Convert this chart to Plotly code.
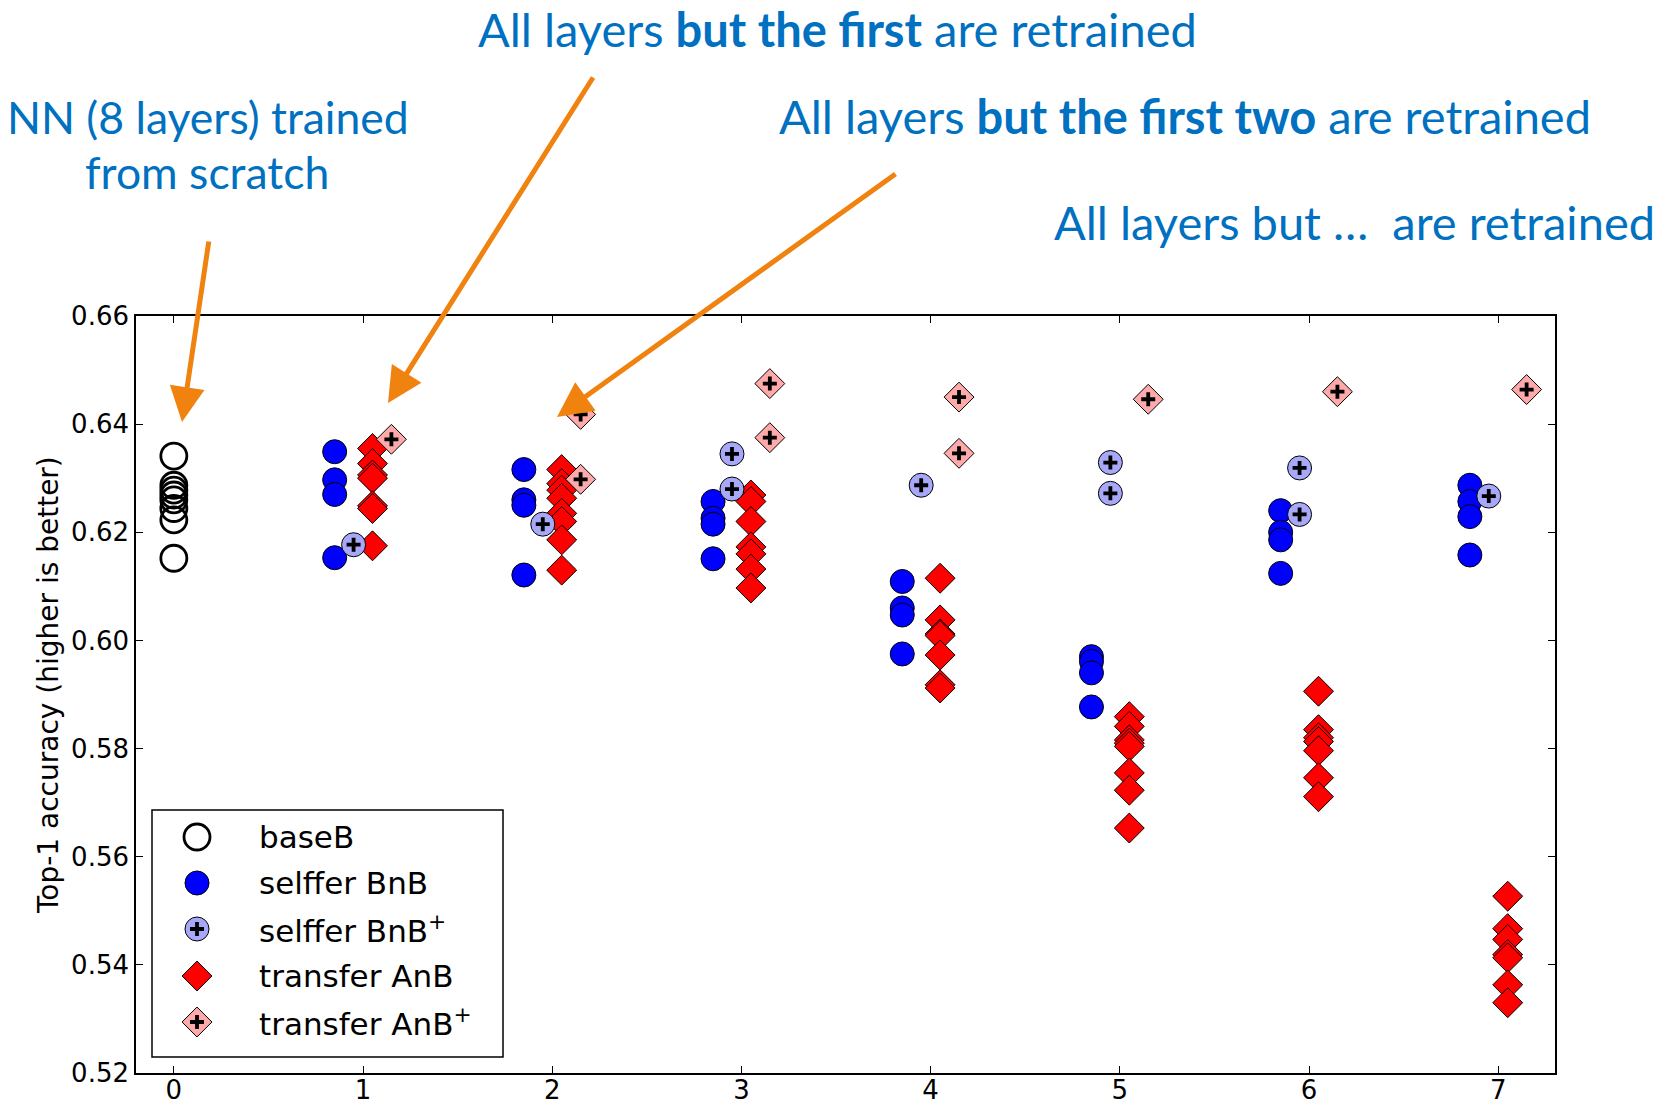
import plotly.graph_objects as go

# ---- data: top-1 accuracy per run, grouped by number of copied layers ----
layers = [1, 2, 3, 4, 5, 6, 7]

base_b = [0.6341, 0.6287, 0.6278, 0.6269, 0.6260, 0.6244, 0.6223, 0.6152]

selffer_bnb = [
    [0.6349, 0.6297, 0.6270, 0.6153],
    [0.6316, 0.6260, 0.6250, 0.6121],
    [0.6257, 0.6226, 0.6215, 0.6151],
    [0.6109, 0.6060, 0.6047, 0.5975],
    [0.5970, 0.5961, 0.5940, 0.5877],
    [0.6240, 0.6200, 0.6186, 0.6124],
    [0.6287, 0.6257, 0.6229, 0.6158],
]

selffer_bnb_plus = [
    [0.6177],
    [0.6215],
    [0.6345, 0.6280],
    [0.6287],
    [0.6329, 0.6272],
    [0.6319, 0.6233],
    [0.6267],
]

transfer_anb = [
    [0.6355, 0.6327, 0.6306, 0.6300, 0.6249, 0.6244, 0.6175],
    [0.6316, 0.6290, 0.6278, 0.6263, 0.6235, 0.6220, 0.6186, 0.6130],
    [0.6269, 0.6257, 0.6220, 0.6173, 0.6160, 0.6132, 0.6097],
    [0.6115, 0.6038, 0.6012, 0.6009, 0.5973, 0.5918, 0.5912],
    [0.5859, 0.5841, 0.5816, 0.5810, 0.5804, 0.5755, 0.5723, 0.5653],
    [0.5906, 0.5835, 0.5820, 0.5813, 0.5796, 0.5746, 0.5711],
    [0.5527, 0.5467, 0.5447, 0.5419, 0.5413, 0.5363, 0.5330],
]

transfer_anb_plus = [
    [0.6372],
    [0.6418, 0.6298],
    [0.6475, 0.6375],
    [0.6450, 0.6346],
    [0.6446],
    [0.6460],
    [0.6464],
]

legend_labels = ["baseB", "selffer BnB", "selffer BnB<sup>+</sup>",
                 "transfer AnB", "transfer AnB<sup>+</sup>"]

y_ticks = [0.52, 0.54, 0.56, 0.58, 0.60, 0.62, 0.64, 0.66]
x_ticks = [0, 1, 2, 3, 4, 5, 6, 7]

# ---- styling ----
W, H = 1661, 1104
PLOT_L, PLOT_R, PLOT_T, PLOT_B = 136, 1555, 316, 1073
TEXT_BLUE = "#0070C0"
ORANGE = "#F0820F"
BLUE = "#0000FF"
LAVENDER = "#A8A8F8"
RED = "#FF0000"
PINK = "#FFAAAA"

OFF_BNB, OFF_BNB_P, OFF_ANB, OFF_ANB_P = -0.15, -0.05, 0.05, 0.15

CIRCLE = 24
DIAMOND = 23
PLUS = 10

OPEN_CIRCLE = dict(symbol="circle-open", size=26, color="black",
                   line=dict(width=2.8, color="black"))
PLUS_MARK = dict(symbol="cross-thin", size=PLUS, color="black",
                 line=dict(width=3.8, color="black"))


def px_x(px):
    return (px - PLOT_L) / (PLOT_R - PLOT_L)


def px_y(py):
    return (PLOT_B - py) / (PLOT_B - PLOT_T)


def spread(series, offset):
    xs, ys = [], []
    for layer, vals in zip(layers, series):
        for v in vals:
            xs.append(layer + offset)
            ys.append(v)
    return xs, ys


fig = go.Figure()

# baseB: open circles at layer 0
fig.add_trace(go.Scatter(
    x=[0] * len(base_b), y=base_b, mode="markers", showlegend=False,
    marker=OPEN_CIRCLE, cliponaxis=False))

bx, by = spread(selffer_bnb, OFF_BNB)
fig.add_trace(go.Scatter(
    x=bx, y=by, mode="markers", showlegend=False,
    marker=dict(symbol="circle", size=CIRCLE, color=BLUE,
                line=dict(width=1, color="black"))))

ax_, ay_ = spread(transfer_anb, OFF_ANB)
fig.add_trace(go.Scatter(
    x=ax_, y=ay_, mode="markers", showlegend=False,
    marker=dict(symbol="diamond", size=DIAMOND, color=RED,
                line=dict(width=1, color="black"))))

for series, off, sym, col in [(selffer_bnb_plus, OFF_BNB_P, "circle", LAVENDER),
                              (transfer_anb_plus, OFF_ANB_P, "diamond", PINK)]:
    px_, py_ = spread(series, off)
    fig.add_trace(go.Scatter(
        x=px_, y=py_, mode="markers", showlegend=False,
        marker=dict(symbol=sym, size=CIRCLE if sym == "circle" else DIAMOND,
                    color=col, line=dict(width=1, color="black"))))
    fig.add_trace(go.Scatter(
        x=px_, y=py_, mode="markers", showlegend=False, hoverinfo="skip",
        marker=PLUS_MARK))

# ---- hand-built legend on an overlay axis spanning the plot area ----
LEG_BOX = (152, 810, 503, 1057)
LEG_KEY_X = 197
LEG_TEXT_X = 257
LEG_ROWS = [837, 883, 929, 976, 1022]
key_styles = [
    OPEN_CIRCLE,
    dict(symbol="circle", size=CIRCLE, color=BLUE, line=dict(width=1, color="black")),
    dict(symbol="circle", size=CIRCLE, color=LAVENDER, line=dict(width=1, color="black")),
    dict(symbol="diamond", size=DIAMOND, color=RED, line=dict(width=1, color="black")),
    dict(symbol="diamond", size=DIAMOND, color=PINK, line=dict(width=1, color="black")),
]
for row, style in zip(LEG_ROWS, key_styles):
    fig.add_trace(go.Scatter(
        x=[px_x(LEG_KEY_X)], y=[px_y(row)], xaxis="x2", yaxis="y2",
        mode="markers", showlegend=False, hoverinfo="skip", marker=style))
for row in (LEG_ROWS[2], LEG_ROWS[4]):
    fig.add_trace(go.Scatter(
        x=[px_x(LEG_KEY_X)], y=[px_y(row)], xaxis="x2", yaxis="y2",
        mode="markers", showlegend=False, hoverinfo="skip", marker=PLUS_MARK))

fig.add_shape(type="rect", xref="paper", yref="paper",
              x0=px_x(LEG_BOX[0]), x1=px_x(LEG_BOX[2]),
              y0=px_y(LEG_BOX[3]), y1=px_y(LEG_BOX[1]),
              line=dict(color="black", width=1.5), fillcolor="white", layer="below")

annotations = []
for row, label in zip(LEG_ROWS, legend_labels):
    annotations.append(dict(
        x=px_x(LEG_TEXT_X), y=px_y(row), xref="paper", yref="paper",
        text=label, showarrow=False, xanchor="left", yanchor="middle",
        font=dict(family="DejaVu Sans", size=31, color="black")))

# y-axis title
annotations.append(dict(
    x=px_x(48), y=px_y(685), xref="paper", yref="paper",
    text="Top-1 accuracy (higher is better)", showarrow=False, textangle=-90,
    xanchor="center", yanchor="middle",
    font=dict(family="DejaVu Sans", size=28, color="black")))

# callout texts: (text, centre x, centre y, font size)
callouts = [
    ("NN (8 layers) trained", 208, 116, 44.5),
    ("from scratch", 207, 171, 44.5),
    ("All layers <b>but the first</b> are retrained", 837, 29, 47),
    ("All layers <b>but the first two</b> are retrained", 1185, 116, 47),
    ("All layers but \u2026  are retrained", 1354, 222, 47),
]
for text, cx, cy, fs in callouts:
    annotations.append(dict(
        x=px_x(cx), y=px_y(cy), xref="paper", yref="paper", text=text,
        showarrow=False, xanchor="center", yanchor="middle",
        font=dict(family="Lato", size=fs, color=TEXT_BLUE)))

# orange arrows: (head x, head y, tail x, tail y)
arrows = [
    (182, 422, 209, 240),
    (388, 403, 594, 76),
    (557, 417, 897, 173),
]
for hx, hy, tx, ty in arrows:
    annotations.append(dict(
        x=px_x(hx), y=px_y(hy), xref="paper", yref="paper", text="",
        showarrow=True, ax=tx - hx, ay=ty - hy, axref="pixel", ayref="pixel",
        arrowhead=2, arrowsize=1.4, arrowwidth=5, arrowcolor=ORANGE,
        standoff=0, startstandoff=0))

axis_common = dict(
    showline=True, linecolor="black", linewidth=1.6, mirror="ticks",
    ticks="inside", ticklen=7, tickwidth=1, tickcolor="black",
    showgrid=False, zeroline=False, automargin=False,
    tickfont=dict(family="DejaVu Sans", size=26, color="black"),
)

fig.update_layout(
    width=W, height=H,
    margin=dict(l=PLOT_L, r=W - PLOT_R, t=PLOT_T, b=H - PLOT_B, autoexpand=False),
    paper_bgcolor="white", plot_bgcolor="white",
    showlegend=False,
    xaxis=dict(range=[-0.2, 7.3], tickvals=x_ticks, ticktext=[str(t) for t in x_ticks],
               ticklabelstandoff=-7, **axis_common),
    yaxis=dict(range=[0.52, 0.66], tickvals=y_ticks,
               ticktext=[f"{t:.2f}" for t in y_ticks], **axis_common),
    xaxis2=dict(domain=[0, 1], range=[0, 1], overlaying="x", visible=False, anchor="y2"),
    yaxis2=dict(range=[0, 1], overlaying="y", visible=False, anchor="x2"),
    annotations=annotations,
)

fig.write_html("out.html")
